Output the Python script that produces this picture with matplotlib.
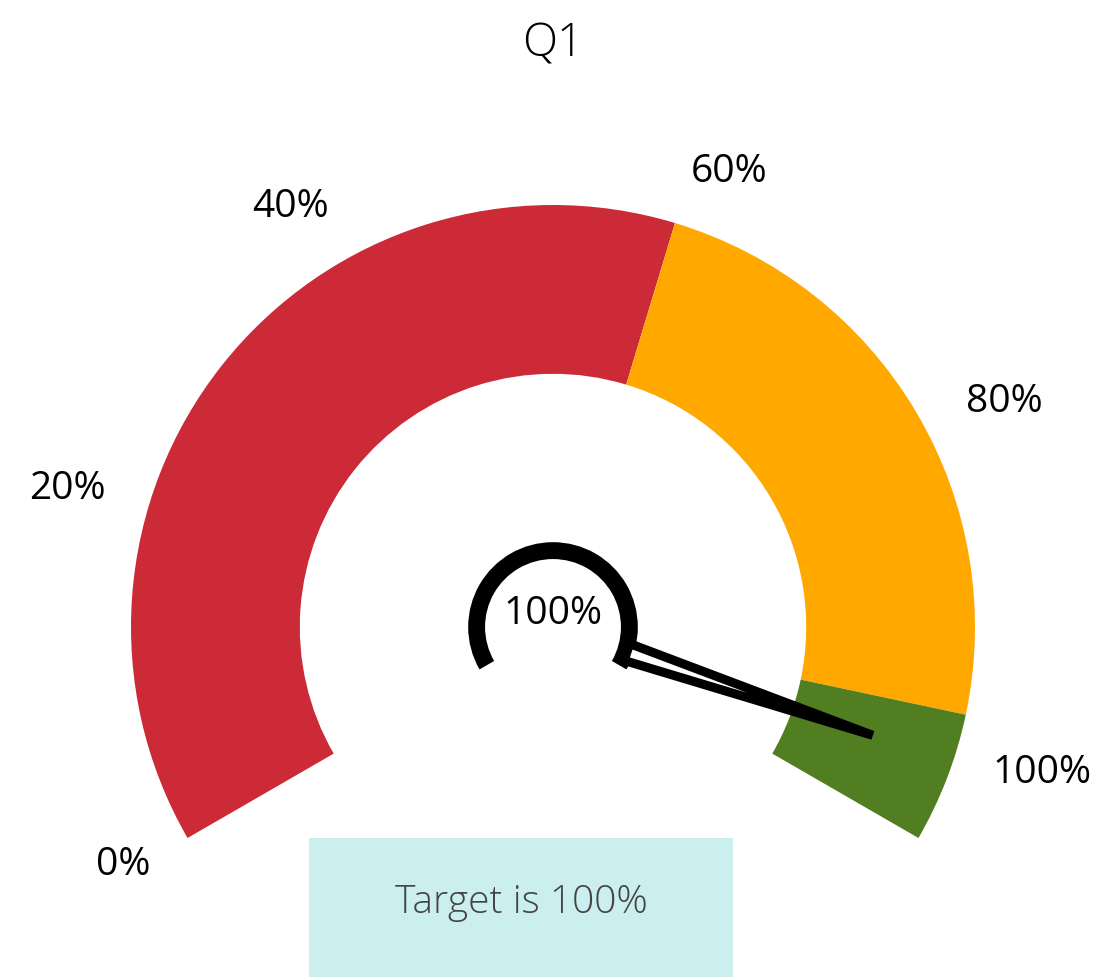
import numpy as np
import matplotlib
matplotlib.use("Agg")
import matplotlib.pyplot as plt
from matplotlib.patches import Wedge, Polygon, Rectangle

plt.rcParams['font.family'] = ['Open Sans', 'DejaVu Sans']

# data
bands = [0, 57, 92.5, 100]
band_colors = ['#CC2A36', '#FFA800', '#507E20']
tick_values = [0, 20, 40, 60, 80, 100]
tick_labels = ['0%', '20%', '40%', '60%', '80%', '100%']
needle_value = 95.3
actual_pct = 100
title = 'Q1'
target_text = 'Target is 100%'

# layout
start_ang, end_ang = 210, -30
r_out, r_in = 1.0, 0.6
label_ang = [209.0, 164.2, 122.0, 68.9, 26.5, -16.6]
label_rad = [1.165, 1.197, 1.174, 1.156, 1.194, 1.21]


def val2ang(v):
    return start_ang + (end_ang - start_ang) * v / 100.0


fig = plt.figure(figsize=(11.02, 9.77), dpi=100)
ax = fig.add_axes([0, 0, 1, 1])
ax.set_xlim(-553 / 422, 549 / 422)
ax.set_ylim(-350 / 422, 627 / 422)
ax.set_aspect('equal')
ax.axis('off')

# colour bands
for lo, hi, c in zip(bands[:-1], bands[1:], band_colors):
    ax.add_patch(Wedge((0, 0), r_out, val2ang(hi), val2ang(lo),
                       width=r_out - r_in, facecolor=c, edgecolor='none'))

# tick labels
for a, r, lab in zip(label_ang, label_rad, tick_labels):
    t = np.radians(a)
    ax.text(r * np.cos(t), r * np.sin(t), lab, fontsize=28,
            ha='center', va='center', color='black')

# small inner gauge
ax.add_patch(Wedge((0, 0), 0.201, val2ang(actual_pct), start_ang,
                   width=0.04, facecolor='black', edgecolor='none'))
ax.text(0, 0.03, f'{actual_pct}%', fontsize=28, ha='center', va='center')

# needle
th = np.radians(val2ang(needle_value))
d = np.array([np.cos(th), np.sin(th)])
n = np.array([-np.sin(th), np.cos(th)])
base = 0.185 * d
tip = 0.8 * d
needle = Polygon([base + 0.021 * n, base - 0.021 * n, tip], closed=True,
                 facecolor='white', edgecolor='black', linewidth=6.5,
                 joinstyle='bevel')
ax.add_patch(needle)

# target box
ax.add_patch(Rectangle((-244 / 422, -400 / 422), 424 / 422, 189 / 422,
                       facecolor='#CBEFEE', edgecolor='none'))
ax.text(-32 / 422, -276 / 422, target_text, fontsize=28, fontweight='light',
        ha='center', va='center', color='#444444')

# title
ax.text(0, 582 / 422, title, fontsize=33, fontweight='light',
        ha='center', va='center', color='black')

fig.savefig('out.png', dpi=100)
